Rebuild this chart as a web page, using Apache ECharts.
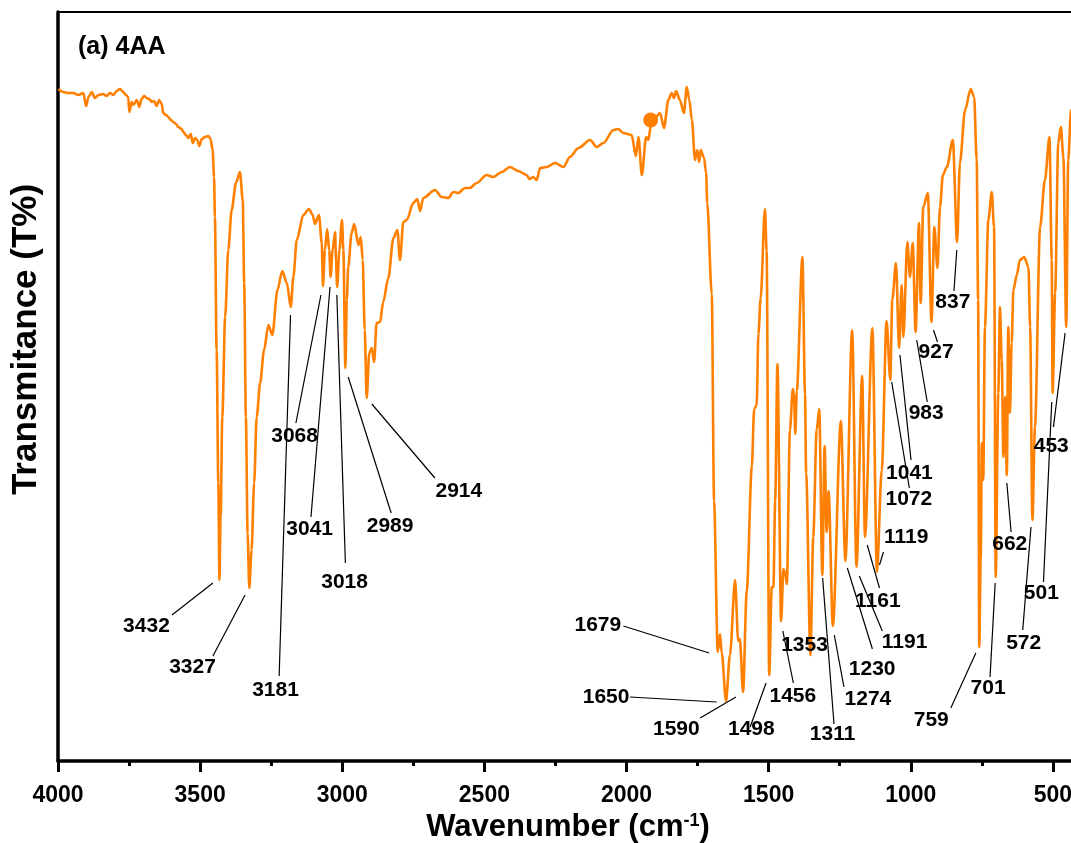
<!DOCTYPE html>
<html>
<head>
<meta charset="utf-8">
<script src="https://cdn.jsdelivr.net/npm/echarts@6/dist/echarts.min.js"></script>
<style>
html,body{margin:0;padding:0;background:#fff;overflow:hidden;}
#chart{width:1300px;height:843px;}
</style>
</head>
<body>
<div id="chart"></div>
<script>
// ---- Spectrum (wavenumber, cm-1) and transmittance (arbitrary %) ----
const specWn = [3999,3981,3964,3946,3929,3911,3901,3893,3881,3870,3858,3841,3829,3817,3805,3794,3782,3770,3761,3753,3749,3741,3735,3723,3714,3706,3697,3688,3679,3670,3662,3653,3644,3635,3630,3620,3612,3603,3594,3585,3577,3565,3559,3550,3542,3533,3526,3518,3510,3503,3494,3483,3471,3463,3456,3451,3448,3442,3436,3432,3428,3422,3412,3401,3389,3374,3360,3350,3345,3339,3333,3327,3319,3310,3301,3289,3275,3260,3246,3228,3211,3195,3181,3172,3160,3137,3117,3104,3096,3082,3072,3068,3061,3053,3046,3041,3034,3025,3022,3018,3010,3001,2996,2989,2984,2979,2967,2958,2943,2935,2928,2921,2914,2905,2896,2888,2879,2867,2856,2838,2820,2806,2797,2785,2773,2750,2736,2726,2715,2674,2650,2627,2609,2592,2568,2551,2527,2492,2469,2439,2410,2381,2351,2342,2328,2316,2304,2281,2251,2222,2199,2169,2128,2105,2081,2046,2029,2011,1982,1967,1958,1946,1931,1923,1914,1900,1882,1868,1853,1841,1833,1826,1812,1798,1788,1779,1770,1759,1751,1744,1739,1727,1720,1716,1700,1692,1679,1671,1665,1650,1636,1618,1607,1601,1590,1577,1559,1551,1542,1536,1528,1513,1507,1498,1489,1483,1477,1469,1456,1448,1442,1436,1425,1415,1411,1406,1401,1381,1372,1368,1353,1343,1331,1322,1311,1303,1296,1289,1274,1246,1230,1206,1191,1171,1161,1135,1119,1102,1085,1072,1065,1052,1041,1032,1026,1012,1003,993,983,971,965,956,940,927,917,906,897,887,873,852,837,827,809,789,777,768,763,759,754,750,745,739,727,715,707,701,692,686,680,674,668,662,657,651,645,639,627,616,601,586,580,572,563,545,528,512,504,501,492,481,472,463,453,446,436,420];
const specT = [67.2,66.9,66.8,66.8,66.6,66.8,65.5,66.4,66.9,66.3,66.6,66.7,66.5,66.8,66.6,67.0,67.2,66.9,66.6,66.4,64.9,65.9,65.6,66.1,65.4,66.2,66.5,66.3,66.2,65.9,66.0,65.5,66.1,65.7,64.8,64.6,64.4,64.1,63.9,63.7,63.4,63.2,62.9,62.6,62.3,62.7,61.8,62.3,62.1,61.5,62.2,62.4,62.5,62.2,61.1,58.4,54.4,41.1,27.8,18.1,24.4,34.4,44.4,51.1,55.1,57.8,58.9,56.1,47.8,34.4,22.8,17.3,21.1,27.8,34.4,37.8,41.1,43.6,42.6,47.1,49.0,47.8,45.4,48.4,52.1,54.6,55.2,54.6,53.7,54.6,51.8,47.5,51.1,53.2,51.1,48.4,51.1,52.9,50.1,47.4,51.1,54.1,51.1,39.3,46.1,49.4,52.8,53.7,51.6,52.4,50.1,43.1,36.3,40.8,41.3,39.9,43.8,43.9,45.9,48.3,52.3,53.1,50.1,53.9,54.1,55.8,56.2,55.0,56.3,57.1,56.4,56.3,56.9,56.8,57.3,57.3,57.8,58.6,58.4,58.9,59.4,59.0,58.6,58.2,58.4,58.1,59.3,59.4,59.8,59.4,60.4,61.3,62.1,61.4,61.8,63.1,63.2,62.8,62.6,60.5,62.4,58.6,62.4,62.1,63.6,64.3,64.8,63.3,66.1,66.8,66.3,67.0,66.1,64.8,67.4,66.1,64.1,60.1,61.1,59.9,61.1,60.3,58.8,55.8,46.7,26.0,10.9,12.7,10.8,6.0,10.6,18.1,12.0,12.2,6.9,17.0,29.5,35.2,35.6,42.7,46.3,55.2,51.0,8.6,17.4,17.4,26.0,39.7,14.0,19.2,18.8,17.7,33.1,37.2,36.7,32.7,37.0,50.4,36.7,28.8,10.6,22.4,33.1,35.2,18.6,31.5,22.9,27.0,13.5,34.0,20.0,43.1,19.4,38.5,22.4,43.3,18.9,29.1,44.0,38.1,46.1,49.8,41.3,47.6,42.4,51.9,48.4,51.8,42.9,53.8,45.8,55.4,56.8,43.9,53.4,49.3,55.4,58.6,59.4,62.1,51.9,59.8,65.1,67.2,66.4,60.1,46.1,11.4,20.1,31.8,28.1,43.4,54.1,56.9,53.4,18.4,36.8,45.4,40.1,30.4,36.4,28.6,43.4,34.8,41.8,47.1,48.6,50.1,50.4,49.4,43.4,24.1,33.4,53.4,58.1,62.4,50.1,36.8,46.8,61.8,63.4,60.4,43.4,60.1,65.1,67.0];

// single stray marker on the trace
const dotWn = [1915];
const dotT = [64.1];

// ---- Peak annotations ----
const peakNames = ['3432','3327','3181','3068','3041','3018','2989','2914','1679','1650','1590','1498','1456','1353','1311','1274','1230','1191','1161','1119','1072','1041','983','927','837','759','701','662','572','501','453'];
const labelWn = [3687,3525,3233,3166,3113,2990,2830,2588,2099,2070,1823,1559,1413,1372,1273,1149,1134,1020,1114,1014,1005,1003,944,909,850,926,726,650,601,539,504];
const labelT  = [13.4,9.3,7.0,32.4,23.1,17.8,23.4,26.9,13.5,6.3,3.1,3.1,6.4,11.5,2.6,6.1,9.1,11.8,15.9,22.3,26.1,28.7,34.7,40.8,45.8,4.0,7.2,21.6,11.7,16.7,31.4];
// leader lines: label end -> peak end (null = no leader)
const leaderFromWn = [3599,3455,3222,3163,3110,2989,2828,2674,2011,1988,1741,1565,1413,null,1270,1235,1135,1100,1110,1096,1005,999,942,906,848,859,721,647,606,533,498];
const leaderFromT  = [14.6,10.5,8.5,33.8,24.4,19.8,24.8,28.3,13.5,6.4,4.3,3.4,7.8,null,3.7,7.4,11.2,13.0,17.3,20.9,27.3,30.1,35.9,41.9,47.0,5.3,8.4,22.9,13.1,17.9,33.4];
const leaderToWn   = [3455,3342,3182,3075,3043,3019,2979,2896,1709,1683,1615,1509,1450,null,1310,1269,1223,1181,1153,1110,1067,1038,979,920,838,771,703,662,577,504,457];
const leaderToT    = [17.8,16.6,44.6,46.6,47.4,46.6,38.4,35.7,10.8,5.9,6.4,7.8,13.0,null,18.3,12.6,19.3,18.5,21.6,19.6,37.9,40.6,42.1,43.1,51.1,10.8,17.8,27.8,23.4,35.9,42.8];

const FONT = '"Liberation Sans", Arial, Helvetica, sans-serif';
const ORANGE = '#ff8000';

const chart = echarts.init(document.getElementById('chart'), null, {renderer: 'canvas'});

const lineData = specWn.map((w, i) => [w, specT[i]]);
const labelData = peakNames.map((n, i) => ({name: n, value: [labelWn[i], labelT[i]]}));
const leaderData = [];
peakNames.forEach((n, i) => {
  if (leaderFromWn[i] === null) return;
  leaderData.push({coords: [[leaderFromWn[i], leaderFromT[i]], [leaderToWn[i], leaderToT[i]]]});
});

const option = {
  animation: false,
  backgroundColor: '#fff',
  title: {
    text: '(a) 4AA',
    left: 73, top: 30,
    textStyle: {fontFamily: FONT, fontWeight: 'bold', fontSize: 25, color: '#000'}
  },
  grid: {
    left: 58, width: 1137, top: 12, bottom: 82,
    outerBoundsMode: 'none', containLabel: false,
    show: true, borderColor: '#000', borderWidth: 2, backgroundColor: 'transparent'
  },
  xAxis: {
    type: 'value', min: 0, max: 4000, interval: 500, inverse: true,
    axisLine: {show: true, onZero: false, lineStyle: {color: '#000', width: 3.5}},
    axisTick: {show: true, inside: false, length: 11, lineStyle: {color: '#000', width: 3}},
    minorTick: {show: true, splitNumber: 2, length: 5, lineStyle: {color: '#000', width: 3}},
    axisLabel: {
      margin: 23, fontSize: 23, fontWeight: 'bold', color: '#000', fontFamily: FONT,
      formatter: v => String(v)
    },
    splitLine: {show: false},
    minorSplitLine: {show: false},
    name: 'Wavenumber (cm{sup|-1})',
    nameLocation: 'middle', nameGap: 44,
    nameTextStyle: {
      fontFamily: FONT, fontWeight: 'bold', fontSize: 31, color: '#000',
      padding: [0, 117, 0, 0],
      rich: {sup: {fontFamily: FONT, fontWeight: 'bold', fontSize: 18, color: '#000', verticalAlign: 'top', lineHeight: 18}}
    }
  },
  yAxis: {
    type: 'value', min: 0, max: 74.9,
    axisLine: {show: true, onZero: false, lineStyle: {color: '#000', width: 3.5}},
    axisTick: {show: false},
    axisLabel: {show: false},
    splitLine: {show: false},
    name: 'Transmitance (T%)',
    nameLocation: 'middle', nameGap: 14,
    nameTextStyle: {fontFamily: FONT, fontWeight: 'bold', fontSize: 35, color: '#000', padding: [0, 0, 0, 94]}
  },
  series: [
    {
      type: 'line', data: lineData, showSymbol: false, symbol: 'none',
      smooth: 0.3, smoothMonotone: 'x',
      lineStyle: {color: ORANGE, width: 2.6}, itemStyle: {color: ORANGE},
      z: 2, silent: true
    },
    {
      type: 'scatter', data: dotWn.map((w, i) => [w, dotT[i]]),
      symbolSize: 15, itemStyle: {color: ORANGE, opacity: 1}, z: 3, silent: true
    },
    {
      type: 'lines', coordinateSystem: 'cartesian2d', data: leaderData,
      lineStyle: {color: '#000', width: 1.2, opacity: 1, curveness: 0},
      symbol: 'none', z: 4, silent: true
    },
    {
      type: 'scatter', data: labelData, symbolSize: 1,
      itemStyle: {color: 'rgba(255,255,255,0)'},
      label: {
        show: true, position: [0, 0], align: 'center', verticalAlign: 'middle',
        formatter: '{b}', opacity: 1,
        fontFamily: FONT, fontWeight: 'bold', fontSize: 21, color: '#000',
        textBorderWidth: 0
      },
      z: 5, silent: true
    }
  ]
};
chart.setOption(option);
</script>
</body>
</html>
